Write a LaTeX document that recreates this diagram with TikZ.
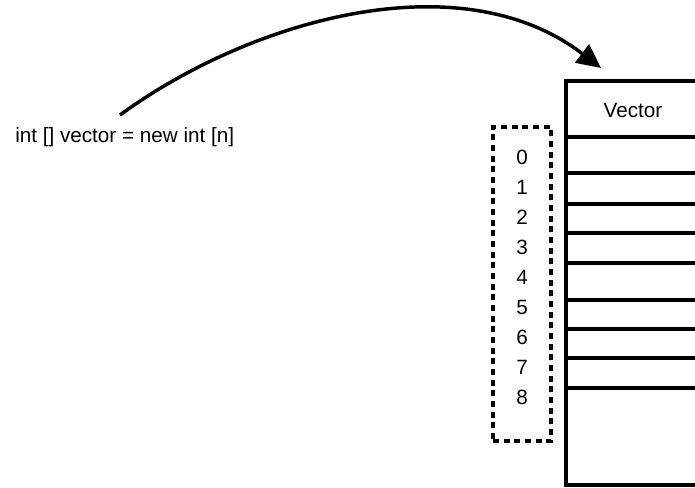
\documentclass[tikz,border=0pt]{standalone}
\usepackage{fontspec}
\setmainfont{Liberation Sans}
\usetikzlibrary{arrows.meta}
\tikzset{
  lbl/.style={font=\fontsize{15.5}{18}\selectfont, inner sep=0pt},
  boldline/.style={line width=2.8pt},
  idxbox/.style={draw, line width=2.8pt, dash pattern=on 4.5pt off 3.5pt,
                 minimum width=43.5pt, minimum height=235.5pt, inner sep=0pt},
  arrowline/.style={line width=2.6pt, -{Triangle[length=18pt,width=17pt]}}
}
\begin{document}
\begin{tikzpicture}[x=0.75pt,y=-0.75pt]
\useasboundingbox (0,0) rectangle (695,487);
\begin{scope}
\clip (0,0) rectangle (695,487);
% code text
\node[lbl, anchor=base west] (code) at (15,142) {int [] vector = new int [n]};
% table
\draw[boldline] (720,81) -- (566,81) -- (566,485) -- (720,485);
\foreach \yy in {137,173,204,233,263,300,329,358,388}{
  \draw[boldline] (566,\yy) -- (720,\yy);
}
\node[lbl, anchor=base] (vec) at (633,117) {Vector};
% index box
\node[idxbox] (idx) at (522,284) {};
\foreach \i [count=\k from 0] in {0,...,8}{
  \node[lbl, anchor=base] (n\i) at (522,164+30*\k) {\i};
}
% arrow
\coordinate (s) at (120,115);
\coordinate (e) at (601,68);
\draw[arrowline] (s) .. controls (250,20) and (460,-40) .. (e);
\end{scope}
\end{tikzpicture}
\end{document}
